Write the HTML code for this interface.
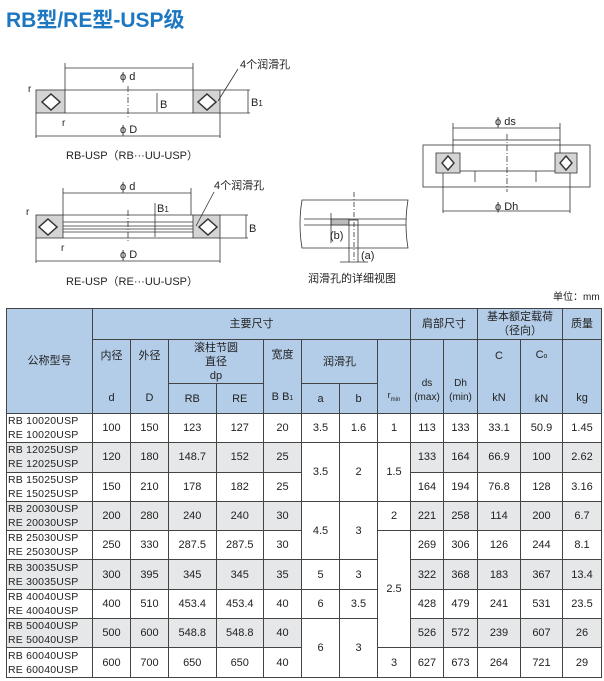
<!DOCTYPE html>
<html><head><meta charset="utf-8">
<style>
body{margin:0;width:604px;height:681px;background:#fff;overflow:hidden;font-family:"Liberation Sans","Noto Sans CJK SC",sans-serif;position:relative}
.title{position:absolute;left:6px;top:4px;font-size:21px;font-weight:bold;color:#1d78c1;letter-spacing:0}
svg{position:absolute;left:0;top:0}
table{position:absolute;left:6px;top:308px;border-collapse:collapse;table-layout:fixed;font-size:11px;color:#222}
td{border:1px solid #444;text-align:center;padding:0;line-height:14px}
.h{background:#b3cce8}
tr.b td{height:28.3px}
tr.g td{background:#e6e7e8}
td.w{background:#fff !important}
td.m{text-align:left;font-size:10.5px;line-height:14px;padding-left:1px;letter-spacing:0.2px}
</style></head><body>
<div class="title">RB型/RE型-USP级</div>
<svg width="604" height="305" viewBox="0 0 604 305" font-family="Liberation Sans,Noto Sans CJK SC,sans-serif" font-size="11" fill="#222">
<g stroke="#333" stroke-width="0.8" fill="none">
<!-- RB diagram -->
<rect x="36" y="90" width="29" height="23" fill="#d4d4d4"/>
<rect x="193" y="90" width="27" height="23" fill="#d4d4d4"/>
<line x1="65" y1="90" x2="193" y2="90"/><line x1="65" y1="113" x2="193" y2="113"/>
<path d="M51 94 L60 102 L51 110 L42 102Z" fill="#fff" stroke-width="1.5"/>
<path d="M207 94 L216 102 L207 110 L198 102Z" fill="#fff" stroke-width="1.5"/>
<line x1="128" y1="86" x2="128" y2="118" stroke-dasharray="6,2,1,2"/>
<line x1="65" y1="63" x2="65" y2="90"/><line x1="193" y1="63" x2="193" y2="90"/>
<line x1="65" y1="68" x2="193" y2="68"/>
<line x1="157" y1="93" x2="157" y2="112"/>
<line x1="220" y1="90" x2="250" y2="90"/><line x1="220" y1="113" x2="250" y2="113"/>
<line x1="248" y1="90" x2="248" y2="113"/>
<line x1="36" y1="113" x2="36" y2="138"/><line x1="220" y1="113" x2="220" y2="138"/>
<line x1="36" y1="136" x2="220" y2="136"/>
<line x1="238" y1="69" x2="218" y2="101"/>
<!-- RE diagram -->
<rect x="36" y="215" width="27" height="23" fill="#d4d4d4"/>
<rect x="193" y="215" width="27" height="23" fill="#d4d4d4"/>
<line x1="63" y1="215" x2="193" y2="215"/><line x1="63" y1="238" x2="193" y2="238"/>
<line x1="63" y1="222" x2="193" y2="222"/><line x1="63" y1="226" x2="193" y2="226"/>
<line x1="63" y1="229" x2="193" y2="229"/><line x1="63" y1="232" x2="193" y2="232"/>
<path d="M48 219 L57 227 L48 235 L39 227Z" fill="#fff" stroke-width="1.5"/>
<path d="M208 219 L217 227 L208 235 L199 227Z" fill="#fff" stroke-width="1.5"/>
<line x1="128" y1="210" x2="128" y2="243" stroke-dasharray="6,2,1,2"/>
<line x1="63" y1="188" x2="63" y2="215"/><line x1="191" y1="188" x2="191" y2="215"/>
<line x1="63" y1="193" x2="191" y2="193"/>
<line x1="155" y1="203" x2="155" y2="237"/>
<line x1="220" y1="215" x2="248" y2="215"/><line x1="220" y1="238" x2="248" y2="238"/>
<line x1="246" y1="215" x2="246" y2="238"/>
<line x1="36" y1="238" x2="36" y2="263"/><line x1="220" y1="238" x2="220" y2="263"/>
<line x1="36" y1="261" x2="220" y2="261"/>
<line x1="214" y1="192" x2="196" y2="226"/>
<!-- lube detail -->
<path d="M302 200 L408 200 Q404 224 408 248 L302 248 Q298 224 302 200Z"/>
<line x1="304" y1="219" x2="406" y2="219"/><line x1="304" y1="225" x2="406" y2="225"/>
<rect x="331" y="219" width="18" height="6" fill="#bbb"/>
<rect x="349" y="220" width="9" height="5" fill="#fff"/>
<line x1="354" y1="192" x2="354" y2="262" stroke-dasharray="5,2,1,2"/>
<line x1="349" y1="225" x2="349" y2="262"/><line x1="358" y1="225" x2="358" y2="262"/>
<line x1="331" y1="213" x2="331" y2="243"/>
<line x1="340" y1="262" x2="368" y2="262"/>
<!-- housing -->
<rect x="423" y="145" width="167" height="42"/>
<rect x="453" y="140" width="107" height="31"/>
<rect x="436" y="153" width="24" height="20" fill="#d4d4d4"/>
<rect x="555" y="153" width="22" height="20" fill="#d4d4d4"/>
<path d="M448 156 L454 163 L448 170 L442 163Z" fill="#fff" stroke-width="1.4"/>
<path d="M566 156 L572 163 L566 170 L560 163Z" fill="#fff" stroke-width="1.4"/>
<line x1="443" y1="173" x2="443" y2="213"/><line x1="570" y1="173" x2="570" y2="213"/>
<line x1="443" y1="211" x2="570" y2="211"/>
<line x1="453" y1="123" x2="453" y2="140"/><line x1="560" y1="123" x2="560" y2="140"/>
<line x1="453" y1="128" x2="560" y2="128"/>
<line x1="507" y1="134" x2="507" y2="192" stroke-dasharray="6,2,1,2"/>
<line x1="475" y1="171" x2="475" y2="182"/><line x1="536" y1="171" x2="536" y2="182"/>
</g>
<text x="120" y="80">ϕ d</text>
<text x="160" y="108">B</text>
<text x="251" y="106">B<tspan font-size="8">1</tspan></text>
<text x="240" y="68">4个润滑孔</text>
<text x="28" y="92" font-size="10">r</text><text x="62" y="126" font-size="10">r</text>
<text x="120" y="133">ϕ D</text>
<text x="66" y="159">RB-USP（RB···UU-USP）</text>
<text x="120" y="190">ϕ d</text>
<text x="157" y="212">B<tspan font-size="8">1</tspan></text>
<text x="249" y="232">B</text>
<text x="214" y="189">4个润滑孔</text>
<text x="26" y="215" font-size="10">r</text><text x="61" y="251" font-size="10">r</text>
<text x="120" y="258">ϕ D</text>
<text x="66" y="285">RE-USP（RE···UU-USP）</text>
<text x="330" y="239">(b)</text>
<text x="361" y="259">(a)</text>
<text x="308" y="282">润滑孔的详细视图</text>
<text x="495" y="125">ϕ ds</text>
<text x="495" y="210">ϕ Dh</text>
<text x="553" y="300" font-size="10">单位：mm</text>
</svg>
<table>
<colgroup><col style="width:86px"><col style="width:38px"><col style="width:38px"><col style="width:47.5px"><col style="width:47.5px"><col style="width:38px"><col style="width:38px"><col style="width:38px"><col style="width:33px"><col style="width:33px"><col style="width:34px"><col style="width:43px"><col style="width:42px"><col style="width:39px"></colgroup>
<tr style="height:31px"><td class="h" rowspan="3">公称型号</td><td class="h" colspan="8">主要尺寸</td><td class="h" colspan="2">肩部尺寸</td><td class="h" colspan="2">基本额定载荷<br>（径向）</td><td class="h">质量</td></tr>
<tr style="height:44px"><td class="h" rowspan="2">内径<br><br><br>d</td><td class="h" rowspan="2">外径<br><br><br>D</td><td class="h" colspan="2">滚柱节圆<br>直径<br>dp</td><td class="h" rowspan="2">宽度<br><br><br>B B<span style="font-size:7px">1</span></td><td class="h" colspan="2">润滑孔</td><td class="h" rowspan="2"><br><br><br><span style="font-size:9px">r<sub style="font-size:6px">min</sub></span></td><td class="h" rowspan="2" style="font-size:10px"><br><br>ds<br>(max)</td><td class="h" rowspan="2" style="font-size:10px"><br><br>Dh<br>(min)</td><td class="h" rowspan="2">C<br><br><br>kN</td><td class="h" rowspan="2">C<span style="font-size:7px">o</span><br><br><br>kN</td><td class="h" rowspan="2"><br><br><br>kg</td></tr>
<tr style="height:30px"><td class="h">RB</td><td class="h">RE</td><td class="h">a</td><td class="h">b</td></tr>
<tr class="b"><td class="m">RB 10020USP<br>RE 10020USP</td><td>100</td><td>150</td><td>123</td><td>127</td><td>20</td><td>3.5</td><td>1.6</td><td>1</td><td>113</td><td>133</td><td>33.1</td><td>50.9</td><td>1.45</td></tr>
<tr class="b g"><td class="m">RB 12025USP<br>RE 12025USP</td><td>120</td><td>180</td><td>148.7</td><td>152</td><td>25</td><td class="w" rowspan="2">3.5</td><td class="w" rowspan="2">2</td><td class="w" rowspan="2">1.5</td><td>133</td><td>164</td><td>66.9</td><td>100</td><td>2.62</td></tr>
<tr class="b"><td class="m">RB 15025USP<br>RE 15025USP</td><td>150</td><td>210</td><td>178</td><td>182</td><td>25</td><td>164</td><td>194</td><td>76.8</td><td>128</td><td>3.16</td></tr>
<tr class="b g"><td class="m">RB 20030USP<br>RE 20030USP</td><td>200</td><td>280</td><td>240</td><td>240</td><td>30</td><td class="w" rowspan="2">4.5</td><td class="w" rowspan="2">3</td><td class="w">2</td><td>221</td><td>258</td><td>114</td><td>200</td><td>6.7</td></tr>
<tr class="b"><td class="m">RB 25030USP<br>RE 25030USP</td><td>250</td><td>330</td><td>287.5</td><td>287.5</td><td>30</td><td rowspan="4">2.5</td><td>269</td><td>306</td><td>126</td><td>244</td><td>8.1</td></tr>
<tr class="b g"><td class="m">RB 30035USP<br>RE 30035USP</td><td>300</td><td>395</td><td>345</td><td>345</td><td>35</td><td class="w">5</td><td class="w">3</td><td>322</td><td>368</td><td>183</td><td>367</td><td>13.4</td></tr>
<tr class="b"><td class="m">RB 40040USP<br>RE 40040USP</td><td>400</td><td>510</td><td>453.4</td><td>453.4</td><td>40</td><td>6</td><td>3.5</td><td>428</td><td>479</td><td>241</td><td>531</td><td>23.5</td></tr>
<tr class="b g"><td class="m">RB 50040USP<br>RE 50040USP</td><td>500</td><td>600</td><td>548.8</td><td>548.8</td><td>40</td><td class="w" rowspan="2">6</td><td class="w" rowspan="2">3</td><td>526</td><td>572</td><td>239</td><td>607</td><td>26</td></tr>
<tr class="b"><td class="m">RB 60040USP<br>RE 60040USP</td><td>600</td><td>700</td><td>650</td><td>650</td><td>40</td><td>3</td><td>627</td><td>673</td><td>264</td><td>721</td><td>29</td></tr>
</table>
</body></html>
